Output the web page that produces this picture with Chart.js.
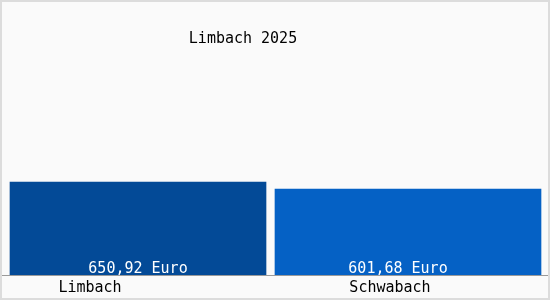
<!DOCTYPE html>
<html>
<head>
<meta charset="utf-8">
<script src="https://cdn.jsdelivr.net/npm/chart.js@4.4.1/dist/chart.umd.min.js"></script>
<style>
    html, body { margin: 0; padding: 0; background: #fff; }
    #wrap { width: 550px; height: 300px; }
</style>
</head>
<body>
<div id="wrap"><canvas id="chart" width="550" height="300"></canvas></div>
<script>
// data
const title = "Limbach 2025";
const categories = ["Limbach", "Schwabach"];
const values = [650.92, 601.68];
const valueLabels = ["650,92 Euro", "601,68 Euro"];

const barColors = ["#034a97", "#0561c5"];
const barWidths = [256, 266];
const labelShift = [-48, -18]; // x labels sit left of the bar centre
const valueShift = [0, -10];

const font = '15px "DejaVu Sans Mono", monospace';

// one dataset per bar so each can have its own width/colour
const datasets = values.map((v, i) => ({
    data: values.map((_, j) => (j === i ? v : null)),
    backgroundColor: barColors[i],
    barThickness: barWidths[i],
    borderWidth: 0,
    grouped: false
}));

const decor = {
    id: "decor",
    beforeDraw(chart) {
        const ctx = chart.ctx;
        ctx.save();
        ctx.fillStyle = "#fafafa";
        ctx.fillRect(0, 0, chart.width, chart.height);
        ctx.strokeStyle = "#dcdcdc";
        ctx.lineWidth = 2;
        ctx.strokeRect(1, 1, chart.width - 2, chart.height - 2);
        ctx.restore();
    },
    afterDatasetsDraw(chart) {
        const ctx = chart.ctx;
        const x = chart.scales.x;
        const bottom = chart.chartArea.bottom;
        ctx.save();
        // axis line
        ctx.strokeStyle = "#9a9a9a";
        ctx.lineWidth = 1;
        ctx.beginPath();
        ctx.moveTo(2, bottom + 0.5);
        ctx.lineTo(chart.width - 2, bottom + 0.5);
        ctx.stroke();

        ctx.font = font;
        ctx.textAlign = "center";
        ctx.textBaseline = "alphabetic";

        // title
        ctx.fillStyle = "#000";
        ctx.fillText(title, 243, 43);

        categories.forEach((c, i) => {
            const px = x.getPixelForValue(i);
            // value inside bar
            ctx.fillStyle = "#fff";
            ctx.fillText(valueLabels[i], px + valueShift[i], bottom - 2);
            // category label
            ctx.fillStyle = "#000";
            ctx.fillText(c, px + labelShift[i], bottom + 17);
        });
        ctx.restore();
    }
};

new Chart(document.getElementById("chart"), {
    type: "bar",
    data: {
        labels: categories,
        datasets: datasets
    },
    options: {
        responsive: false,
        animation: false,
        layout: {
            padding: { left: 3, right: 7, top: 75, bottom: 25 }
        },
        scales: {
            x: { display: false },
            y: { display: false, min: 0, max: 1400 }
        },
        plugins: {
            legend: { display: false },
            tooltip: { enabled: false }
        }
    },
    plugins: [decor]
});
</script>
</body>
</html>
